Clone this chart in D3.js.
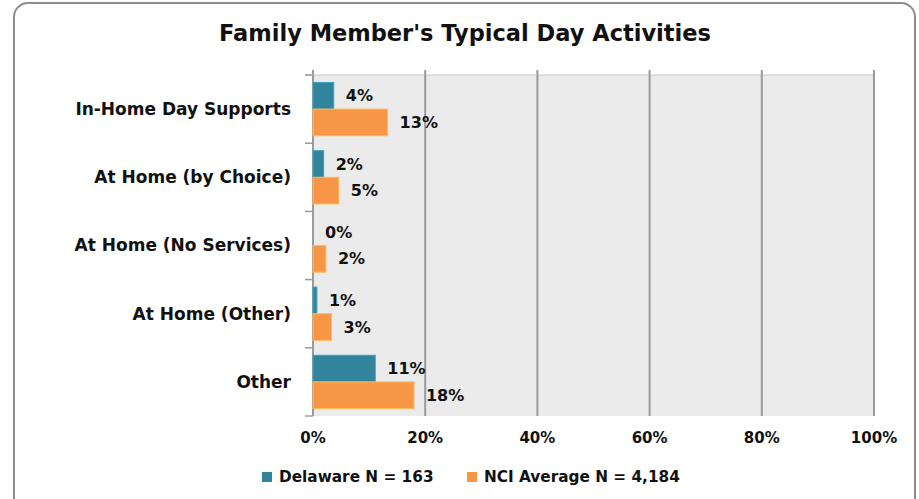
<!DOCTYPE html>
<html>
<head>
<meta charset="utf-8">
<script src="https://cdn.jsdelivr.net/npm/d3@7"></script>
<style>
  body { margin: 0; background: #fff; }
  text { font-family: "DejaVu Sans", Verdana, sans-serif; font-weight: bold; fill: #111; }
</style>
</head>
<body>
<div id="chart"></div>
<script>
// categories, top to bottom
const categories = ['In-Home Day Supports', 'At Home (by Choice)', 'At Home (No Services)', 'At Home (Other)', 'Other'];
const seriesNames = ['Delaware N = 163', 'NCI Average N = 4,184'];
const delaware = [3.7, 1.9, 0, 0.7, 11.1];
const nciAverage = [13.3, 4.6, 2.3, 3.3, 18.0];
const delawareLabels = ['4%', '2%', '0%', '1%', '11%'];
const nciLabels = ['13%', '5%', '2%', '3%', '18%'];
const xTicks = [0, 20, 40, 60, 80, 100];
const colors = ['#31849b', '#f79646'];

const width = 919;
const height = 499;
const margin = {left: 313, right: 45, top: 75, bottom: 83};

const svg = d3.select('#chart').append('svg')
    .attr('width', width)
    .attr('height', height);

// outer frame
svg.append('rect')
    .attr('x', 14).attr('y', 3)
    .attr('width', 901).attr('height', 510)
    .attr('rx', 14).attr('ry', 14)
    .attr('fill', '#fff')
    .attr('stroke', '#8c8c8c')
    .attr('stroke-width', 2);

svg.append('text')
    .attr('x', 465).attr('y', 41)
    .attr('text-anchor', 'middle')
    .attr('font-size', '22.5px')
    .text("Family Member's Typical Day Activities");

const x = d3.scaleLinear().domain([0, 100]).range([margin.left, width - margin.right]);
const y = d3.scaleBand().domain(categories).range([margin.top, height - margin.bottom]);
const sub = d3.scaleBand().domain([0, 1]).range([0, y.bandwidth()]).paddingOuter(0.28);

// plot background
svg.append('rect')
    .attr('x', x(0)).attr('y', margin.top)
    .attr('width', x(100) - x(0))
    .attr('height', height - margin.bottom - margin.top)
    .attr('fill', '#ebebeb');

// top border line
svg.append('line')
    .attr('x1', x(0) - 8).attr('x2', x(100))
    .attr('y1', margin.top).attr('y2', margin.top)
    .attr('stroke', '#c8c8c8').attr('stroke-width', 1);

// vertical gridlines
svg.selectAll('.grid')
    .data(xTicks.slice(1))
    .enter()
    .append('line')
    .attr('class', 'grid')
    .attr('x1', d => x(d)).attr('x2', d => x(d))
    .attr('y1', margin.top - 5).attr('y2', height - margin.bottom)
    .attr('stroke', '#9a9a9a')
    .attr('stroke-width', 2);

// y axis
const yAxis = svg.append('g')
    .attr('transform', `translate(${x(0)},0)`);
yAxis.append('line')
    .attr('x1', 0).attr('x2', 0)
    .attr('y1', margin.top - 5).attr('y2', height - margin.bottom)
    .attr('stroke', '#9a9a9a').attr('stroke-width', 2);
const yTickPos = categories.map(c => y(c)).concat([height - margin.bottom]);
yAxis.selectAll('.ytick')
    .data(yTickPos)
    .enter()
    .append('line')
    .attr('x1', -8).attr('x2', 0)
    .attr('y1', d => d).attr('y2', d => d)
    .attr('stroke', '#9a9a9a').attr('stroke-width', 1.5);

svg.selectAll('.cat')
    .data(categories)
    .enter()
    .append('text')
    .attr('x', 291)
    .attr('y', d => y(d) + y.bandwidth() / 2)
    .attr('dy', '0.35em')
    .attr('text-anchor', 'end')
    .attr('font-size', '17px')
    .text(d => d);

// x tick labels
svg.selectAll('.xlab')
    .data(xTicks)
    .enter()
    .append('text')
    .attr('x', d => x(d))
    .attr('y', 443)
    .attr('text-anchor', 'middle')
    .attr('font-size', '15px')
    .text(d => d + '%');

// bars
const series = [delaware, nciAverage];
const labels = [delawareLabels, nciLabels];
series.forEach((vals, s) => {
    svg.selectAll('.bar' + s)
        .data(vals)
        .enter()
        .append('rect')
        .attr('x', x(0))
        .attr('y', (d, i) => y(categories[i]) + sub(s))
        .attr('width', d => x(d) - x(0))
        .attr('height', sub.bandwidth())
        .attr('fill', colors[s])
        .attr('stroke', d => d > 0 ? d3.color(colors[s]).brighter(0.6) : 'none')
        .attr('stroke-width', 1);

    svg.selectAll('.lab' + s)
        .data(vals)
        .enter()
        .append('text')
        .attr('x', d => x(d) + 12)
        .attr('y', (d, i) => y(categories[i]) + sub(s) + sub.bandwidth() / 2)
        .attr('dy', '0.35em')
        .attr('font-size', '16px')
        .text((d, i) => labels[s][i]);
});

// legend
const legendX = [262, 467];
seriesNames.forEach((name, s) => {
    svg.append('rect')
        .attr('x', legendX[s]).attr('y', 472)
        .attr('width', 10).attr('height', 10)
        .attr('fill', colors[s]);
    svg.append('text')
        .attr('x', legendX[s] + 17).attr('y', 477)
        .attr('dy', '0.35em')
        .attr('font-size', '15.3px')
        .text(name);
});
</script>
</body>
</html>
